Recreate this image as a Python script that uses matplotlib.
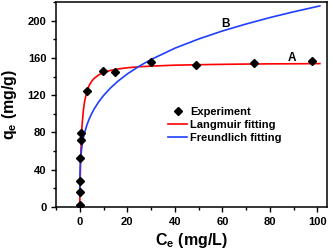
import matplotlib
matplotlib.use("Agg")
import matplotlib.pyplot as plt
from matplotlib.ticker import MultipleLocator

plt.rcParams['font.family'] = ['Liberation Sans', 'DejaVu Sans']
plt.rcParams['font.weight'] = 'bold'
plt.rcParams['mathtext.fontset'] = 'custom'
plt.rcParams['mathtext.rm'] = 'Liberation Sans:bold'
plt.rcParams['mathtext.default'] = 'rm'

# Experimental data
exp_ce = [0.0, 0.0, 0.0, 0.15, 0.7, 0.7, 3.2, 9.8, 14.7, 29.8, 48.9, 73.4, 97.9]
exp_qe = [2, 16, 28, 53, 72, 79, 124, 146, 144.4, 155.5, 152.7, 154.8, 157]

# Langmuir fitting curve
lang_ce = [0, 0.05, 0.1, 0.2, 0.3, 0.5, 0.7, 1, 1.5, 2, 3, 4, 5, 6, 8, 10, 13, 16,
           20, 25, 30, 40, 50, 60, 70, 80, 90, 101]
lang_qe = [0, 9.7, 18.3, 32.8, 44.4, 62.2, 75.0, 88.8, 103.5, 112.9, 124.1, 130.6,
           134.9, 137.9, 141.8, 144.2, 146.6, 148.1, 149.4, 150.5, 151.2, 152.2,
           152.7, 153.1, 153.4, 153.6, 153.7, 153.9]

# Freundlich fitting curve
freu_ce = [0.001, 0.005, 0.02, 0.05, 0.1, 0.2, 0.3, 0.5, 0.7, 1, 1.5, 2, 3, 4, 5, 6,
           8, 10, 13, 16, 20, 25, 30, 40, 50, 60, 70, 80, 90, 101]
freu_qe = [11.4, 17.2, 24.5, 31.0, 37.0, 44.1, 48.9, 55.7, 60.7, 66.5, 73.7, 79.4,
           88.0, 94.7, 100.2, 105.0, 113.0, 119.6, 127.9, 134.9, 142.8, 151.1,
           158.3, 170.4, 180.3, 188.9, 196.4, 203.3, 209.5, 215.8]

fig = plt.figure(figsize=(3.33, 2.52), dpi=100)
ax = fig.add_axes([56/333, 45/252, 271/333, 205/252])

ax.plot(lang_ce, lang_qe, color='#ff0000', lw=1.2, label='Langmuir fitting', zorder=2)
ax.plot(freu_ce, freu_qe, color='#1f3fff', lw=1.2, label='Freundlich fitting', zorder=2)
ax.plot(exp_ce, exp_qe, linestyle='none', marker='D', color='black', ms=4.3,
        label='Experiment', zorder=3)

ax.set_xlim(-10, 104)
ax.set_ylim(0, 220)
ax.xaxis.set_major_locator(MultipleLocator(20))
ax.xaxis.set_minor_locator(MultipleLocator(10))
ax.yaxis.set_major_locator(MultipleLocator(40))
ax.yaxis.set_minor_locator(MultipleLocator(20))
ax.tick_params(which='major', direction='out', length=3.5, width=1, labelsize=8)
ax.tick_params(which='minor', direction='out', length=2, width=1)
for s in ax.spines.values():
    s.set_linewidth(1.1)
for lab in ax.get_xticklabels() + ax.get_yticklabels():
    lab.set_fontweight('bold')

ax.set_xlabel(r'C$_{e}$ (mg/L)', fontsize=11.5, fontweight='bold', labelpad=3)
ax.set_ylabel(r'q$_{e}$ (mg/g)', fontsize=11.5, fontweight='bold', labelpad=6)

ax.text(89.4, 160, 'A', fontsize=8.5, fontweight='bold', ha='center', va='center')
ax.text(61.3, 196, 'B', fontsize=8.5, fontweight='bold', ha='center', va='center')

h, l = ax.get_legend_handles_labels()
order = [2, 0, 1]
ax.legend([h[i] for i in order], [l[i] for i in order], frameon=False,
          loc='center left', bbox_to_anchor=(0.385, 0.40),
          handlelength=1.7, handletextpad=0.3, labelspacing=0.3, borderpad=0.2,
          prop={'weight': 'bold', 'size': 8})

fig.savefig('out.png', dpi=100)
